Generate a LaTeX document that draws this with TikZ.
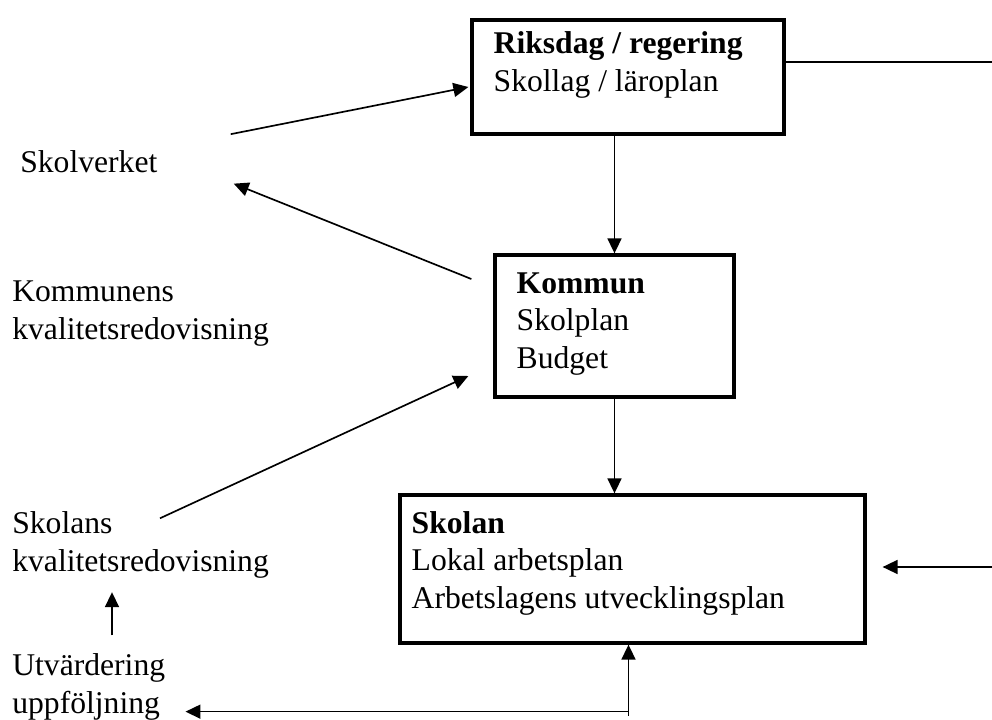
\documentclass[tikz,border=0pt]{standalone}
\usepackage{fontspec}
\setmainfont{Liberation Serif}
\usetikzlibrary{arrows.meta,calc,positioning}
\tikzstyle{box}=[rectangle,draw,line width=1.9pt,inner sep=0pt]
\tikzstyle{txt}=[anchor=base west,inner sep=0pt,align=left,font=\fontsize{18}{21.3}\selectfont]
\tikzstyle{arr}=[-{Triangle[length=0.3cm,width=0.28cm]},line width=0.95pt]

\begin{document}
\begin{tikzpicture}[x=0.02cm,y=-0.02cm]
\useasboundingbox (0,0) rectangle (992,720);
% boxes
\node[box,minimum width=6.24cm,minimum height=2.28cm] (riks) at (628,77) {};
\node[box,minimum width=4.78cm,minimum height=2.84cm] (kom) at (614.5,326) {};
\node[box,minimum width=9.3cm,minimum height=2.96cm] (skol) at (632.5,569) {};
% texts sit on the baseline of their last line
\node[txt] (riksText) at ($(riks.north west)+(23,73)$) {\textbf{Riksdag / regering}\\Skollag / läroplan};
\node[txt] (komText) at ($(kom.north west)+(23,115)$) {\textbf{Kommun}\\Skolplan\\Budget};
\node[txt] (skolText) at ($(skol.north west)+(13,115)$) {\textbf{Skolan}\\Lokal arbetsplan\\Arbetslagens utvecklingsplan};
% left side
\node[txt] (skv) at (20,173) {Skolverket};
\node[txt] (kkv) at (12,339) {Kommunens\\kvalitetsredovisning};
\node[txt] (skkv) at (12,571) {Skolans\\kvalitetsredovisning};
\node[txt] (utv) at (12,713) {Utvärdering\\uppföljning};
\coordinate (edgeTop) at (992,62);
\coordinate (edgeRight) at (992,567);
\coordinate (fb) at ($(skol.south)+(-4,67)$);
% connectors
\draw[arr] (riks.south -| kom.north) -- (kom.north);
\draw[arr] (kom.south) -- (kom.south |- skol.north);
\draw[arr] ($(skv.east)+(73,-28)$) -- ($(riks.west)+(-2,10)$);
\draw[arr] ($(kom.west)+(-22,-47)$) -- ($(skv.south east)+(76,10)$);
\draw[arr] ($(skkv.north west)+(148,7)$) -- ($(kom.west)+(-25,50)$);
\draw[arr] ($(utv.north west)+(100,-18)$) -- ($(skkv.south west)+(100,14)$);
\draw[arr] ($(fb)+(0,4)$) -- (fb |- skol.south);
\draw[arr,shorten >=0.4cm] (fb) -- (fb -| utv.east);
\draw[line width=0.95pt] ($(riks.east)+(0,-15)$) -- (edgeTop);
\draw[arr] (edgeRight) -- ($(skol.east)+(16,-2)$);
\end{tikzpicture}
\end{document}
